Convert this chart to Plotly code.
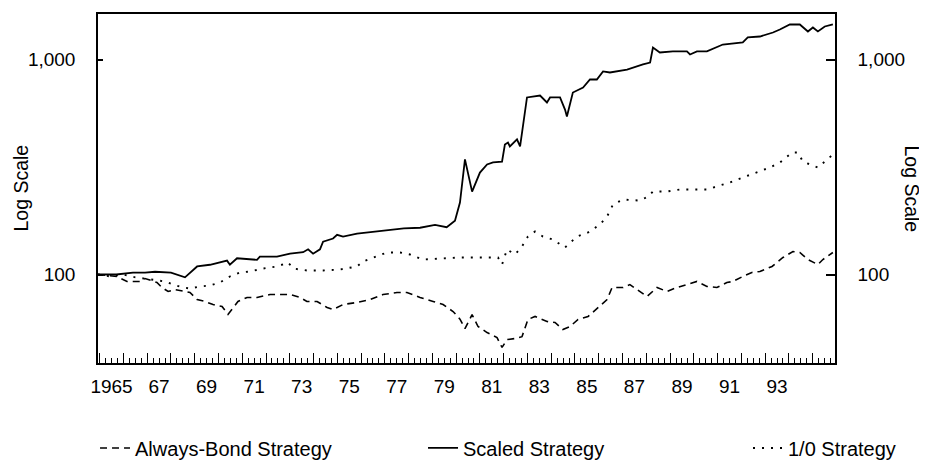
import plotly.graph_objects as go

# ---------------- data ----------------
scaled_t = [1964.43, 1965.2, 1965.9, 1966.41, 1966.83, 1967.5, 1968.09, 1968.6, 1969.14, 1969.6,
            1969.86, 1969.98, 1970.28, 1971.12, 1971.24, 1971.96, 1972.51, 1973.06, 1973.27, 1973.48,
            1973.77, 1973.9, 1974.32, 1974.49, 1974.74, 1975.33, 1976.0, 1976.72, 1977.3, 1977.98,
            1978.61, 1979.1, 1979.45, 1979.66, 1979.87, 1980.17, 1980.5, 1980.8, 1981.05, 1981.43,
            1981.55, 1981.68, 1981.76, 1982.06, 1982.19, 1982.48, 1982.69, 1983.03, 1983.32, 1983.45,
            1983.87, 1984.08, 1984.16, 1984.41, 1984.84, 1985.13, 1985.42, 1985.68, 1985.97, 1986.69,
            1987.36, 1987.66, 1987.78, 1988.07, 1988.62, 1989.21, 1989.34, 1989.63, 1990.05, 1990.72,
            1991.56, 1991.77, 1992.28, 1992.83, 1993.12, 1993.54, 1993.96, 1994.3, 1994.51, 1994.72,
            1995.01, 1995.35]
scaled_v = [100, 100, 102, 102, 103, 102, 97, 109, 111, 114,
            116, 111, 119, 117, 121, 121, 125, 127, 131, 125,
            131, 142, 147, 153, 150, 155, 158, 162, 164, 165,
            170, 166, 178, 216, 343, 243, 298, 325, 332, 335,
            402, 411, 394, 425, 394, 666, 673, 680, 631, 666,
            666, 585, 543, 702, 741, 807, 807, 880, 870, 898,
            948, 968, 1137, 1078, 1090, 1090, 1055, 1090, 1090, 1174,
            1200, 1266, 1279, 1335, 1379, 1455, 1455, 1350, 1409, 1350,
            1424, 1455]

onezero_t = [1964.43, 1964.94, 1965.48, 1966.0, 1966.6, 1967.25, 1967.59, 1968.01, 1968.3, 1968.72,
             1969.14, 1969.56, 1969.77, 1969.98, 1970.41, 1970.83, 1971.37, 1971.96, 1972.43, 1972.64,
             1973.22, 1973.9, 1974.61, 1975.33, 1975.58, 1976.17, 1976.59, 1977.14, 1977.56, 1978.1,
             1978.82, 1979.66, 1981.26, 1981.43, 1981.64, 1981.98, 1982.27, 1982.52, 1982.82, 1983.15,
             1983.57, 1984.08, 1984.58, 1985.05, 1985.55, 1985.85, 1986.1, 1986.52, 1987.23, 1987.57,
             1987.78, 1988.37, 1988.92, 1990.05, 1990.47, 1991.02, 1991.56, 1992.15, 1992.7, 1993.12,
             1993.63, 1993.88, 1994.09, 1994.72, 1995.1, 1995.35]
onezero_v = [100, 98, 100, 97, 95, 92.8, 89.8, 87.0, 86.1, 88.0,
             88.9, 91.8, 94.8, 97.9, 102.2, 103.3, 106.6, 109.0, 113.7, 106.6,
             104.4, 104.4, 105.5, 109.0, 115.0, 121.3, 126.6, 126.6, 123.9, 117.4,
             118.7, 120.0, 120.0, 111.3, 130.7, 123.9, 134.9, 150.2, 158.5, 150.2,
             145.5, 133.5, 150.2, 156.8, 170.8, 186.1, 211.6, 223.1, 220.7, 230.4,
             243.3, 243.3, 248.6, 248.6, 256.9, 268.0, 282.5, 298.0, 314.5, 331.7,
             369.1, 369.1, 335.2, 314.5, 342.5, 361.0]

bond_t = [1964.43, 1965.23, 1965.65, 1966.2, 1966.41, 1966.7, 1966.91, 1967.12, 1967.38, 1967.67,
          1968.0, 1968.3, 1968.6, 1968.93, 1969.27, 1969.65, 1969.9, 1970.32, 1970.7, 1971.12,
          1971.67, 1972.09, 1972.51, 1972.93, 1973.22, 1973.65, 1974.07, 1974.32, 1974.74, 1975.33,
          1975.88, 1976.42, 1977.01, 1977.43, 1977.98, 1978.53, 1978.95, 1979.37, 1979.66, 1979.87,
          1980.17, 1980.42, 1980.8, 1981.22, 1981.43, 1981.64, 1981.98, 1982.27, 1982.52, 1982.82,
          1983.32, 1983.66, 1983.99, 1984.29, 1984.63, 1985.05, 1985.47, 1985.85, 1986.06, 1986.52,
          1986.81, 1987.11, 1987.53, 1987.95, 1988.37, 1988.79, 1989.21, 1989.63, 1990.05, 1990.47,
          1990.89, 1991.14, 1991.56, 1991.94, 1992.28, 1992.79, 1993.25, 1993.67, 1993.96, 1994.3,
          1994.72, 1994.93, 1995.35]
bond_v = [100, 97.9, 92.8, 92.8, 95.8, 93.8, 91.8, 87.0, 83.4, 85.1,
          84.0, 82.5, 76.5, 74.9, 72.5, 71.0, 65.2, 74.9, 78.2, 78.2,
          80.7, 80.7, 80.7, 78.2, 74.9, 74.9, 70.2, 68.7, 72.5, 74.1,
          76.5, 80.7, 82.5, 82.5, 78.2, 74.9, 72.5, 67.3, 62.0, 56.0,
          65.0, 57.3, 53.7, 50.9, 45.8, 49.8, 50.4, 51.4, 61.8, 63.8,
          60.5, 59.8, 55.5, 57.3, 61.8, 63.8, 70.2, 76.5, 87.0, 87.0,
          89.8, 85.1, 79.0, 87.0, 83.4, 87.0, 89.8, 92.8, 88.0, 87.0,
          91.8, 92.8, 97.9, 102.2, 103.3, 109.0, 120.0, 127.9, 126.6, 117.4,
          111.3, 117.4, 126.6]

x_label_years = [1965, 1967, 1969, 1971, 1973, 1975, 1977, 1979, 1981, 1983, 1985, 1987, 1989, 1991, 1993]
x_label_text = ["1965", "67", "69", "71", "73", "75", "77", "79", "81", "83", "85", "87", "89", "91", "93"]
y_tick_vals = [100, 1000]
y_tick_text = ["100", "1,000"]

# ---------------- figure ----------------
FONT = "Liberation Sans, Arial, Helvetica, sans-serif"
x_range = [1964.43, 1995.44]
y_range = [1.5884, 3.2116]

fig = go.Figure()
fig.add_trace(go.Scatter(x=bond_t, y=bond_v, name="Always-Bond Strategy", mode="lines",
                         line=dict(color="black", width=1.6, dash="7px,5px"), legend="legend"))
fig.add_trace(go.Scatter(x=scaled_t, y=scaled_v, name="Scaled Strategy", mode="lines",
                         line=dict(color="black", width=1.8), legend="legend2"))
fig.add_trace(go.Scatter(x=onezero_t, y=onezero_v, name="1/0 Strategy", mode="lines",
                         line=dict(color="black", width=1.9, dash="2px,7px"),
                         xaxis="x2", yaxis="y2", legend="legend3"))

legend_common = dict(orientation="h", xref="container", yref="container", xanchor="left",
                     y=0.031, yanchor="middle", font=dict(size=20), bgcolor="rgba(0,0,0,0)")

fig.update_layout(
    width=919, height=454,
    margin=dict(l=90, r=92, t=6, b=99, autoexpand=False),
    paper_bgcolor="white", plot_bgcolor="white",
    font=dict(family=FONT, size=19, color="black"),
    showlegend=True,
    legend=dict(x=0.0947, **legend_common),
    legend2=dict(x=0.4516, **legend_common),
    legend3=dict(x=0.8052, **legend_common),
    xaxis=dict(range=x_range, tickmode="array", tickvals=x_label_years, ticktext=x_label_text,
               ticks="", showline=True, linecolor="black", linewidth=1.5, mirror=True,
               showgrid=False, zeroline=False, ticklabelstandoff=5, automargin=False,
               tickfont=dict(size=19)),
    xaxis2=dict(range=x_range, overlaying="x", anchor="y", side="bottom",
                tickmode="linear", tick0=1964.5, dtick=1,
                ticks="inside", ticklen=10, tickwidth=1.2, tickcolor="black",
                showticklabels=False, showline=False, showgrid=False, zeroline=False,
                automargin=False,
                minor=dict(tickmode="linear", tick0=1964.5, dtick=0.25, ticks="inside",
                           ticklen=5, tickwidth=1, tickcolor="black", showgrid=False)),
    yaxis=dict(type="log", range=y_range, tickmode="array", tickvals=y_tick_vals, ticktext=y_tick_text,
               ticks="inside", ticklen=5, tickwidth=1.5, tickcolor="black",
               showline=True, linecolor="black", linewidth=1.5, showgrid=False, zeroline=False,
               ticklabelstandoff=17, automargin=False, tickfont=dict(size=19)),
    yaxis2=dict(type="log", range=y_range, overlaying="y", side="right", anchor="x",
                tickmode="array", tickvals=y_tick_vals, ticktext=y_tick_text,
                ticks="inside", ticklen=9, tickwidth=1.5, tickcolor="black",
                showline=True, linecolor="black", linewidth=1.5, showgrid=False, zeroline=False,
                ticklabelstandoff=17, automargin=False, tickfont=dict(size=19)),
    annotations=[
        dict(text="Log Scale", xref="paper", yref="paper", x=-0.1058, y=0.5,
             xanchor="center", yanchor="middle", textangle=-90, showarrow=False,
             font=dict(size=19.5)),
        dict(text="Log Scale", xref="paper", yref="paper", x=1.1045, y=0.5,
             xanchor="center", yanchor="middle", textangle=90, showarrow=False,
             font=dict(size=19.5)),
    ],
)

fig.write_html("out.html")
